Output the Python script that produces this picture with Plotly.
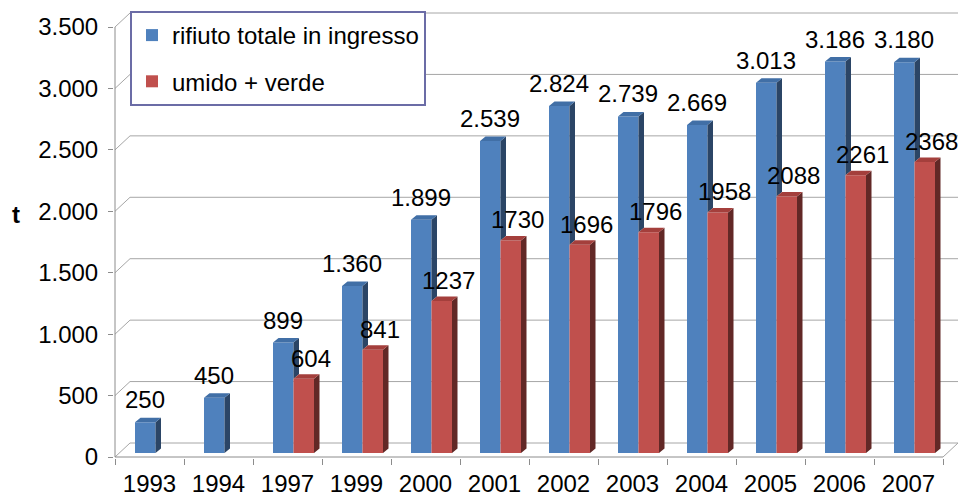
import plotly.graph_objects as go

# ---------------- data ----------------
years = ["1993", "1994", "1997", "1999", "2000", "2001", "2002", "2003", "2004", "2005", "2006", "2007"]
totale = [250, 450, 899, 1360, 1899, 2539, 2824, 2739, 2669, 3013, 3186, 3180]
umido = [None, None, 604, 841, 1237, 1730, 1696, 1796, 1958, 2088, 2261, 2368]
y_ticks = [0, 500, 1000, 1500, 2000, 2500, 3000, 3500]
name_tot = "rifiuto totale in ingresso"
name_umi = "umido + verde"
y_title = "t"

# ---------------- layout constants (pixels) ----------------
W, H = 972, 498
PX_LEFT, PX_RIGHT, PX_TOP, PX_BOTTOM = 114, 961, 12, 458   # plot area
X0_PX, Y0_PX = 115, 457        # front axis origin
KX = 69.0                      # px per category
KY = 430.0 / 3500.0            # px per unit
WALL_DX, WALL_DY = 15.0 / KX, 14.0 / KY
FACE_DX, FACE_DY = 5.5 / KX, 4.5 / KY
BASE = 4.0 / KY                # bars stand a little behind the front edge of the floor
BAR_W = 20.5 / KX
OFF_B = -14.5 / KX
OFF_R = OFF_B + BAR_W

x_lo = -0.5 + (PX_LEFT - X0_PX) / KX
x_hi = -0.5 + (PX_RIGHT - X0_PX) / KX
y_lo = -(PX_BOTTOM - Y0_PX) / KY
y_hi = (Y0_PX - PX_TOP) / KY

BLUE, BLUE_SIDE, BLUE_TOP = "#4f81bd", "#2b4566", "#416fa6"
RED, RED_SIDE, RED_TOP = "#c0504d", "#622826", "#a43f3c"
GRID = "#a6a6a6"
AXIS = "#8c8c8c"
FONT = "Liberation Sans, Arial, sans-serif"
FS = 24
n = len(years)
idx = list(range(n))

fig = go.Figure()

# front faces
fig.add_trace(go.Bar(x=idx, y=totale, base=BASE, width=BAR_W, offset=OFF_B,
                     marker=dict(color=BLUE, line=dict(width=0)), name=name_tot,
                     legendgroup="a"))
fig.add_trace(go.Bar(x=idx, y=umido, base=BASE, width=BAR_W, offset=OFF_R,
                     marker=dict(color=RED, line=dict(width=0)), name=name_umi,
                     legendgroup="b"))


def faces(values, off, lower=None):
    sx, sy, tx, ty = [], [], [], []
    for i, v in enumerate(values):
        if v is None:
            continue
        xl = i + off
        xr = xl + BAR_W
        top = BASE + v
        bot = BASE
        if lower is not None and lower[i] is not None:
            bot = BASE + lower[i]
        sx += [xr, xr, xr + FACE_DX, xr + FACE_DX, xr, None]
        sy += [bot, top, top + FACE_DY, bot + FACE_DY, bot, None]
        tx += [xl, xl + FACE_DX, xr + FACE_DX, xr, xl, None]
        ty += [top, top + FACE_DY, top + FACE_DY, top, top, None]
    return sx, sy, tx, ty


for vals, off, lower, cs, ct in [(totale, OFF_B, umido, BLUE_SIDE, BLUE_TOP),
                                 (umido, OFF_R, None, RED_SIDE, RED_TOP)]:
    sx, sy, tx, ty = faces(vals, off, lower)
    fig.add_trace(go.Scatter(x=sx, y=sy, mode="lines", fill="toself", fillcolor=cs,
                             line=dict(width=0, color=cs), showlegend=False, hoverinfo="skip"))
    fig.add_trace(go.Scatter(x=tx, y=ty, mode="lines", fill="toself", fillcolor=ct,
                             line=dict(width=0, color=ct), showlegend=False, hoverinfo="skip"))

# back wall gridlines, left wall diagonals, floor
shapes = []
xl_front, xr_front = -0.5, n - 0.5
for v in y_ticks:
    shapes.append(dict(type="line", xref="x", yref="y", x0=xl_front, y0=v,
                       x1=xl_front + WALL_DX, y1=v + WALL_DY,
                       line=dict(color=GRID, width=1), layer="below"))
    shapes.append(dict(type="line", xref="x", yref="y", x0=xl_front + WALL_DX, y0=v + WALL_DY,
                       x1=xr_front + WALL_DX, y1=v + WALL_DY,
                       line=dict(color=GRID, width=1), layer="below"))
shapes.append(dict(type="line", xref="x", yref="y", x0=xr_front, y0=0,
                   x1=xr_front + WALL_DX, y1=WALL_DY, line=dict(color=GRID, width=1), layer="below"))
# axis lines
shapes.append(dict(type="line", xref="x", yref="y", x0=xl_front, y0=0, x1=xr_front, y1=0,
                   line=dict(color=AXIS, width=1), layer="below"))
shapes.append(dict(type="line", xref="x", yref="y", x0=xl_front, y0=0, x1=xl_front, y1=y_ticks[-1],
                   line=dict(color=AXIS, width=1), layer="below"))

# data labels
annotations = []
for i, v in enumerate(totale):
    annotations.append(dict(x=i + OFF_B + BAR_W / 2, y=BASE + v, xref="x", yref="y",
                            text=f"{v:,}".replace(",", "."), showarrow=False,
                            yanchor="bottom", xanchor="center", yshift=7,
                            font=dict(family=FONT, size=FS, color="black")))
for i, v in enumerate(umido):
    if v is None:
        continue
    annotations.append(dict(x=i + OFF_R + BAR_W / 2, y=BASE + v, xref="x", yref="y",
                            text=str(v), showarrow=False,
                            yanchor="bottom", xanchor="center", yshift=5, xshift=7,
                            font=dict(family=FONT, size=FS, color="black")))
pw = PX_RIGHT - PX_LEFT
annotations.append(dict(x=(15.5 - PX_LEFT) / pw, xref="paper", y=1970, yref="y",
                        text="<b>" + y_title + "</b>", showarrow=False,
                        xanchor="center", yanchor="middle",
                        font=dict(family=FONT, size=FS, color="black")))

fig.update_layout(
    width=W, height=H,
    margin=dict(l=PX_LEFT, r=W - PX_RIGHT, t=PX_TOP, b=H - PX_BOTTOM, pad=0,
                autoexpand=False),
    paper_bgcolor="white", plot_bgcolor="white",
    separators=",.",
    barmode="overlay",
    shapes=shapes, annotations=annotations,
    font=dict(family=FONT, size=FS, color="black"),
    showlegend=True,
    legend=dict(x=(130 - PX_LEFT) / pw, y=(PX_BOTTOM - 11) / (PX_BOTTOM - PX_TOP),
                xanchor="left", yanchor="top", bgcolor="white",
                bordercolor="#6b6ca6", borderwidth=2, tracegroupgap=12,
                traceorder="grouped",
                font=dict(family=FONT, size=24, color="black")),
    xaxis=dict(range=[x_lo, x_hi], tickmode="array", tickvals=idx, ticktext=years,
               ticks="", showgrid=False, zeroline=False, showline=False,
               ticklabelstandoff=9, automargin=False,
               minor=dict(tickmode="linear", tick0=-0.5, dtick=1, ticks="outside",
                          ticklen=6, tickcolor=AXIS, showgrid=False),
               tickfont=dict(family=FONT, size=FS, color="black"), fixedrange=True),
    yaxis=dict(range=[y_lo, y_hi], tickmode="array", tickvals=y_ticks, tickformat=",d",
               ticks="outside", ticklen=5, tickcolor=AXIS, showgrid=False, zeroline=False,
               showline=False, ticklabelstandoff=5, automargin=False,
               tickfont=dict(family=FONT, size=FS, color="black"), fixedrange=True),
)

fig.write_html("out.html", config={"displayModeBar": False},
               post_script="document.body.style.margin='0';document.body.style.padding='0';")
